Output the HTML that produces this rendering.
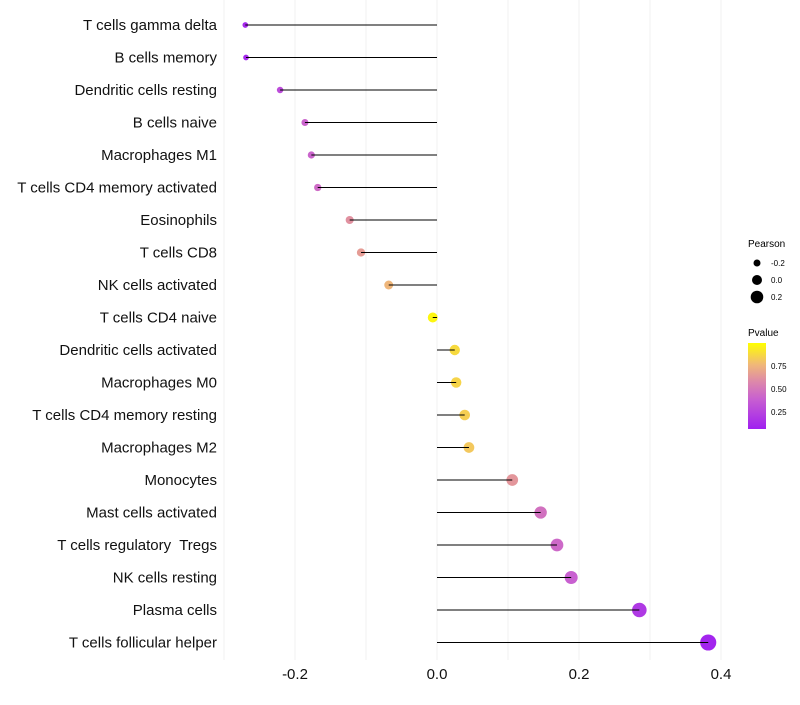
<!DOCTYPE html>
<html><head><meta charset="utf-8"><style>
body{margin:0;background:#fff;font-family:"Liberation Sans",sans-serif}
text{white-space:pre}
</style></head><body>
<svg id="c" width="800" height="700" xmlns="http://www.w3.org/2000/svg" font-family="Liberation Sans, sans-serif">
<defs><linearGradient id="pg" x1="0" y1="1" x2="0" y2="0">
<stop offset="0" stop-color="#a020f0"/><stop offset="0.35" stop-color="#c860d0"/><stop offset="0.55" stop-color="#dd88aa"/><stop offset="0.75" stop-color="#f0b878"/><stop offset="1" stop-color="#ffff00"/></linearGradient></defs>
<g id="grid"></g>
<g id="marks"></g>
<g id="labels"></g>
<g id="ticks"></g>
<g font-size="10">
<text x="748" y="247">Pearson</text>
<circle cx="757" cy="263" r="3.5" fill="#000"/><text x="771" y="266" font-size="8">-0.2</text>
<circle cx="757" cy="280" r="5" fill="#000"/><text x="771" y="283" font-size="8">0.0</text>
<circle cx="757" cy="297" r="6.3" fill="#000"/><text x="771" y="300" font-size="8">0.2</text>
<text x="748" y="336">Pvalue</text>
<rect x="748" y="343" width="18" height="86" fill="url(#pg)"/>
<text x="771" y="369" font-size="8">0.75</text><text x="771" y="392" font-size="8">0.50</text><text x="771" y="415" font-size="8">0.25</text>
</g>
</svg>
<script>
const categories=["T cells gamma delta","B cells memory","Dendritic cells resting","B cells naive","Macrophages M1","T cells CD4 memory activated","Eosinophils","T cells CD8","NK cells activated","T cells CD4 naive","Dendritic cells activated","Macrophages M0","T cells CD4 memory resting","Macrophages M2","Monocytes","Mast cells activated","T cells regulatory  Tregs","NK cells resting","Plasma cells","T cells follicular helper"];
const pearson=[-0.270,-0.269,-0.221,-0.186,-0.177,-0.168,-0.123,-0.107,-0.068,-0.006,0.025,0.027,0.039,0.045,0.106,0.146,0.169,0.189,0.285,0.382];
const pvalue=[0.12,0.12,0.3,0.42,0.42,0.45,0.62,0.66,0.76,0.97,0.88,0.86,0.84,0.82,0.64,0.48,0.44,0.4,0.2,0.1];
const tickValues=[-0.2,0,0.2,0.4];
const tickLabels=["-0.2","0.0","0.2","0.4"];
const NS="http://www.w3.org/2000/svg";
const x=v=>437+v*710;
const y=i=>25+i*32.5;
const rScale=v=>5+v*8;
const stops=[[0,[160,32,240]],[0.35,[200,96,208]],[0.55,[221,136,170]],[0.75,[240,184,120]],[1,[255,255,0]]];
function color(p){let t=(p-0.076)/(1-0.076);t=Math.max(0,Math.min(1,t));
for(let k=1;k<stops.length;k++){if(t<=stops[k][0]){const a=stops[k-1],b=stops[k],f=(t-a[0])/(b[0]-a[0]);
return "rgb("+a[1].map((c,j)=>Math.round(c+(b[1][j]-c)*f)).join(",")+")";}}return "rgb(255,255,0)";}
function mk(tag,attrs,parent){const e=document.createElementNS(NS,tag);for(const k in attrs)e.setAttribute(k,attrs[k]);parent.appendChild(e);return e;}
const grid=document.getElementById('grid');
for(let g=-3;g<=4;g++){const l=mk('line',{x1:x(g/10),x2:x(g/10),y1:0,y2:660,stroke:'#f0f0f0','stroke-width':1},grid);

}
const marks=document.getElementById('marks'),labels=document.getElementById('labels');
categories.forEach((c,i)=>{
const d=mk('circle',{cx:x(pearson[i]),cy:y(i),r:rScale(pearson[i]),fill:color(pvalue[i])},marks);


const ln=mk('line',{x1:x(0),x2:x(pearson[i]),y1:y(i),y2:y(i),stroke:'#000','stroke-width':1},marks);


const t=mk('text',{x:217,y:y(i)+5,'text-anchor':'end','font-size':15,fill:'#111'},labels);
t.textContent=c;


});
const ticks=document.getElementById('ticks');
tickValues.forEach((v,i)=>{const t=mk('text',{x:x(v),y:679,'text-anchor':'middle','font-size':15,fill:'#111'},ticks);
t.textContent=tickLabels[i];

});
</script>
</body></html>
